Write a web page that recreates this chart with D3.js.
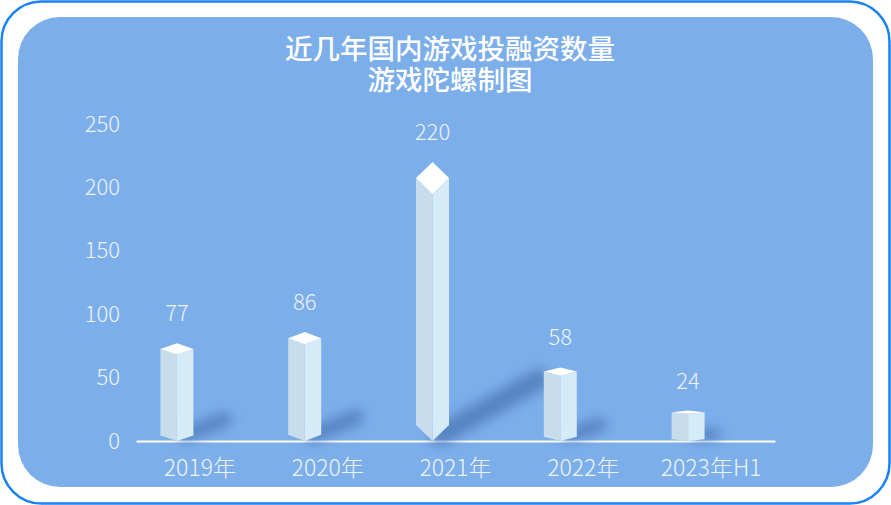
<!DOCTYPE html>
<html>
<head>
<meta charset="utf-8">
<script src="https://cdn.jsdelivr.net/npm/d3@7"></script>
<style>
  html, body { margin: 0; padding: 0; background: #ffffff; }
  svg { display: block; }
</style>
</head>
<body>
<svg id="chart"></svg>
<script>
////////////////////////////////////////////////////////////////////////////////
/////////////////////////////////////////////////////////////////////// Data
////////////////////////////////////////////////////////////////////////////////

const titleLines = ["近几年国内游戏投融资数量", "游戏陀螺制图"];
const categories = ["2019年", "2020年", "2021年", "2022年", "2023年H1"];
const dealCounts = [77, 86, 220, 58, 24];
const yTicks = [0, 50, 100, 150, 200, 250];

////////////////////////////////////////////////////////////////////////////////
/////////////////////////////////////////////////////////////////////// Layout
////////////////////////////////////////////////////////////////////////////////

const width = 891;
const height = 505;
const plot = { left: 136, right: 775, top: 124, bottom: 441 };
const textColor = "#eef3fb";
const font = "'Noto Sans CJK SC', 'Noto Sans', sans-serif";

const svg = d3.select("#chart")
              .attr("width", width)
              .attr("height", height);

const defs = svg.append("defs");
defs.append("filter")
      .attr("id", "shadowBlur")
      .attr("x", "-50%").attr("y", "-50%")
      .attr("width", "200%").attr("height", "200%")
    .append("feGaussianBlur")
      .attr("stdDeviation", 6);

// Frame
svg.append("rect")
     .attr("x", 1.5).attr("y", 1.5)
     .attr("width", width - 3).attr("height", height - 3)
     .attr("rx", 40)
     .attr("fill", "#ffffff")
     .attr("stroke", "#1a82f4")
     .attr("stroke-width", 2.5);

svg.append("rect")
     .attr("x", 18).attr("y", 17)
     .attr("width", 855).attr("height", 470)
     .attr("rx", 42)
     .attr("fill", "#7caeea");

// Title, one text per line
svg.selectAll(".title")
   .data(titleLines)
   .join("text")
     .attr("class", "title")
     .attr("x", 450)
     .attr("y", function(d, i) { return 59 + i * 31; })
     .attr("text-anchor", "middle")
     .style("font-family", font)
     .style("font-size", "27.5px")
     .style("font-weight", 500)
     .attr("fill", "#ffffff")
     .text(function(d) { return d; });

////////////////////////////////////////////////////////////////////////////////
/////////////////////////////////////////////////////////////////////// Scales
////////////////////////////////////////////////////////////////////////////////

const xScale = d3.scaleBand()
                 .domain(categories)
                 .range([plot.left, plot.right])
                 .padding(0);

const yScale = d3.scaleLinear()
                 .domain([0, 250])
                 .range([plot.bottom, plot.top]);

// Y-axis (labels only)
const yAxis = d3.axisLeft(yScale)
                .tickValues(yTicks)
                .tickSize(0)
                .tickPadding(0);
const yAxisG = svg.append("g")
                    .attr("transform", "translate(120, 0)")
                    .call(yAxis);
yAxisG.select(".domain").remove();
yAxisG.selectAll("text")
        .style("font-family", font)
        .style("font-size", "22px")
        .style("font-weight", 300)
        .attr("fill", textColor);

// X-axis
const xAxis = d3.axisBottom(xScale)
                .tickSize(0)
                .tickPadding(19);
const xAxisG = svg.append("g")
                    .attr("transform", `translate(0, ${plot.bottom})`)
                    .call(xAxis);
xAxisG.select(".domain")
        .attr("stroke", "#ffffff")
        .attr("stroke-width", 2);
xAxisG.selectAll("text")
        .style("font-family", font)
        .style("font-size", "23px")
        .style("font-weight", 300)
        .attr("fill", textColor);

////////////////////////////////////////////////////////////////////////////////
/////////////////////////////////////////////////////////////////////// Bars
////////////////////////////////////////////////////////////////////////////////

const barData = categories.map(function(c, i) {
  return { cat: c, value: dealCounts[i] };
});

const halfW = 16.5;
const barShift = -23;

function geom(d) {
  const cx = xScale(d.cat) + xScale.bandwidth() / 2 + barShift;
  const top = yScale(d.value);
  const depth = Math.max(2.5, 0.116 * (439 - top));
  const base = yScale(0);
  return { cx: cx, top: top, depth: depth, base: base, h: base - top };
}

function pts(arr) {
  return arr.map(function(p) { return p.join(","); }).join(" ");
}

// Shadows
svg.append("g")
     .attr("filter", "url(#shadowBlur)")
   .selectAll("line")
   .data(barData)
   .join("line")
     .attr("x1", function(d) { const g = geom(d); return g.cx + 8; })
     .attr("y1", function(d) { const g = geom(d); return g.base - 6; })
     .attr("x2", function(d) { const g = geom(d); return g.cx + halfW + 0.32 * g.h; })
     .attr("y2", function(d) { const g = geom(d); return g.base - 0.22 * g.h; })
     .attr("stroke", "#4a76b4")
     .attr("stroke-opacity", 0.75)
     .attr("stroke-width", function(d) { return Math.min(22, 11 + geom(d).h / 28); })
     .attr("stroke-linecap", "round");

const bars = svg.selectAll(".bar")
                .data(barData)
                .join("g")
                  .attr("class", "bar");

// Left face
bars.append("polygon")
      .attr("fill", "#c7ddeb")
      .attr("points", function(d) {
        const g = geom(d);
        return pts([
          [g.cx - halfW, g.top + g.depth / 2],
          [g.cx, g.top + g.depth],
          [g.cx, g.base],
          [g.cx - halfW, g.base - g.depth / 2]
        ]);
      });

// Right face
bars.append("polygon")
      .attr("fill", "#d5ebf8")
      .attr("points", function(d) {
        const g = geom(d);
        return pts([
          [g.cx, g.top + g.depth],
          [g.cx + halfW, g.top + g.depth / 2],
          [g.cx + halfW, g.base - g.depth / 2],
          [g.cx, g.base]
        ]);
      });

// Top face
bars.append("polygon")
      .attr("fill", "#ffffff")
      .attr("points", function(d) {
        const g = geom(d);
        return pts([
          [g.cx, g.top],
          [g.cx + halfW, g.top + g.depth / 2],
          [g.cx, g.top + g.depth],
          [g.cx - halfW, g.top + g.depth / 2]
        ]);
      });

// Value labels
bars.append("text")
      .attr("x", function(d) { return geom(d).cx; })
      .attr("y", function(d) { return geom(d).top - 22; })
      .attr("text-anchor", "middle")
      .style("font-family", font)
      .style("font-size", "22px")
      .style("font-weight", 300)
      .attr("fill", textColor)
      .text(function(d) { return d.value; });
</script>
</body>
</html>
